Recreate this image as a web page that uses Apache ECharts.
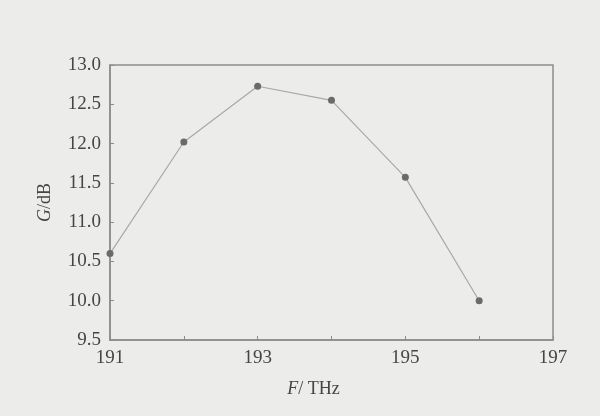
<!DOCTYPE html>
<html>
<head>
<meta charset="utf-8">
<script src="https://cdn.jsdelivr.net/npm/echarts@6/dist/echarts.min.js"></script>
<style>
  html, body { margin: 0; padding: 0; background: #ececea; }
  #main { width: 600px; height: 416px; }
</style>
</head>
<body>
<div id="main"></div>
<script>
// frequency (THz) and gain (dB)
var freq = [191, 192, 193, 194, 195, 196];
var gain = [10.6, 12.02, 12.73, 12.55, 11.57, 10.0];
var xLabels = [191, 193, 195, 197];

var points = freq.map(function (f, i) { return [f, gain[i]]; });

var axisGray = '#8c8c8c';
var textGray = '#454545';
var serif = '"Liberation Serif", "DejaVu Serif", serif';

var chart = echarts.init(document.getElementById('main'));
var option = {
    backgroundColor: '#ececea',
    animation: false,
    grid: {
        left: 110, right: 47, top: 65, bottom: 76,
        show: true,
        borderColor: axisGray,
        borderWidth: 1.5,
        backgroundColor: 'transparent'
    },
    xAxis: {
        type: 'value',
        min: 191, max: 197, interval: 1,
        name: '{i|F}{n|/ THz}',
        nameLocation: 'middle',
        nameGap: 40,
        nameTextStyle: {
            padding: [0, 36, 0, 0],
            rich: {
                i: { fontFamily: serif, fontStyle: 'italic', fontSize: 18, color: textGray },
                n: { fontFamily: serif, fontSize: 18, color: textGray }
            }
        },
        axisLine: { lineStyle: { color: axisGray, width: 1.5 } },
        axisTick: { inside: true, length: 4, lineStyle: { color: axisGray } },
        axisLabel: {
            fontFamily: serif, fontSize: 19, color: textGray, margin: 9,
            formatter: function (v) { return xLabels.indexOf(v) >= 0 ? String(v) : ''; }
        },
        splitLine: { show: false }
    },
    yAxis: {
        type: 'value',
        min: 9.5, max: 13, interval: 0.5,
        name: '{i|G}{n|/dB}',
        nameLocation: 'middle',
        nameGap: 56,
        nameRotate: 90,
        nameTextStyle: {
            rich: {
                i: { fontFamily: serif, fontStyle: 'italic', fontSize: 18, color: textGray },
                n: { fontFamily: serif, fontSize: 18, color: textGray }
            }
        },
        axisLine: { show: true, lineStyle: { color: axisGray, width: 1.5 } },
        axisTick: { show: true, inside: true, length: 4, lineStyle: { color: axisGray } },
        axisLabel: {
            fontFamily: serif, fontSize: 19, color: textGray, margin: 9,
            formatter: function (v) { return v.toFixed(1); }
        },
        splitLine: { show: false }
    },
    series: [{
        type: 'line',
        data: points,
        symbol: 'circle',
        symbolSize: 7,
        itemStyle: { color: '#6a6a6a' },
        lineStyle: { color: '#a8a8a8', width: 1.2 }
    }]
};
chart.setOption(option);
</script>
</body>
</html>
